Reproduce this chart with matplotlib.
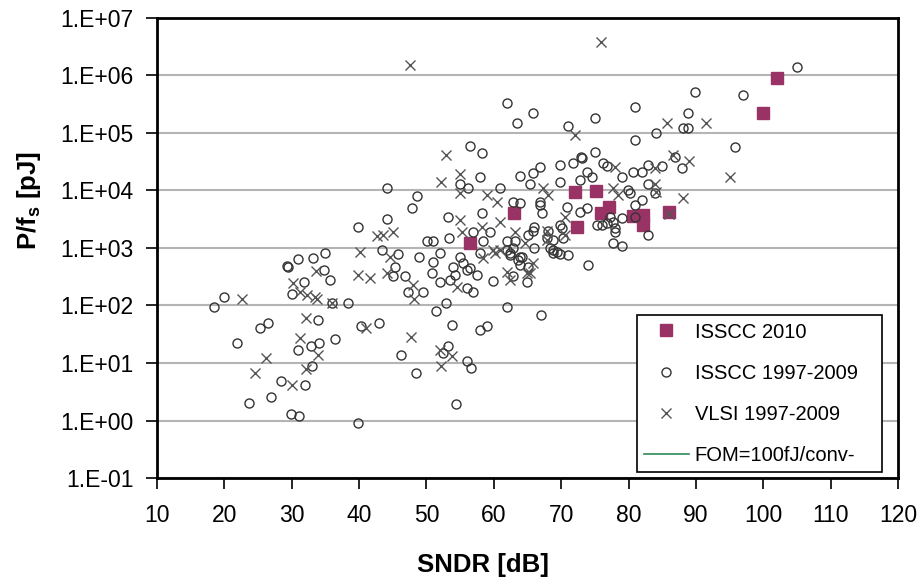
import matplotlib.pyplot as plt
from matplotlib.lines import Line2D
from matplotlib.ticker import FixedLocator, FuncFormatter, NullLocator
import numpy as np

plt.rcParams['font.family'] = ['Liberation Sans', 'DejaVu Sans']
plt.rcParams['mathtext.fontset'] = 'custom'
plt.rcParams['mathtext.rm'] = 'Liberation Sans'
plt.rcParams['mathtext.bf'] = 'Liberation Sans:bold'

# ISSCC 2010 (SNDR dB, P/fs pJ)
isscc2010_sndr = [56.5, 63.0, 72.1, 75.2, 72.4, 75.9, 77.1, 80.7, 82.1, 82.1, 86.0, 100.0, 102.0]
isscc2010_pfs = [1.2e3, 4.1e3, 9.4e3, 9.8e3, 2.3e3, 4.1e3, 5.1e3, 3.6e3, 3.8e3, 2.5e3, 4.3e3, 2.2e5, 9.1e5]

# ISSCC 1997-2009
isscc_sndr = [
    44.1, 48.6, 47.9, 53.2, 44.1, 39.8, 50.1, 51.0, 53.3, 52.0, 43.4, 45.8, 48.9, 51.0, 45.3, 50.8,
    52.0, 45.0, 46.8, 29.3, 29.4, 30.9, 33.2, 34.9, 34.8, 35.7, 31.8, 30.0, 36.0, 38.4, 20.0, 18.5,
    33.9, 25.3, 26.5, 21.9, 30.9, 32.9, 34.1, 36.4, 33.0, 28.4, 32.0, 26.9, 23.7, 29.9, 31.1, 39.8,
    40.3, 43.0, 46.2, 48.5, 52.5, 51.4, 52.9, 47.3, 49.5, 53.8, 58.0, 59.0, 62.0, 67.0, 53.2, 56.0,
    56.6, 54.4, 53.9, 54.2, 55.0, 56.0, 57.5, 59.9, 56.9, 56.0, 58.0, 62.4, 62.9, 63.9, 63.9, 64.9,
    68.8, 69.8, 71.0, 74.0, 58.2, 56.5, 58.0, 55.0, 56.2, 60.9, 63.9, 65.4, 65.8, 66.9, 66.9, 66.9,
    67.2, 63.9, 62.9, 69.8, 71.8, 73.1, 75.0, 73.8, 69.8, 72.8, 74.6, 76.2, 76.8, 79.0, 80.7, 82.0,
    82.9, 79.9, 80.2, 82.9, 85.0, 81.0, 82.0, 81.0, 82.9, 79.0, 77.7, 78.0, 77.7, 79.0, 75.3, 76.1,
    76.8, 73.8, 72.8, 69.8, 70.1, 70.3, 68.0, 67.9, 68.8, 68.3, 68.8, 69.4, 66.0, 65.1, 66.0, 64.2,
    65.1, 62.0, 62.9, 62.4, 59.4, 62.0, 63.6, 58.2, 56.9, 55.4, 56.5, 53.5, 89.9, 97.0, 81.0, 88.8,
    84.1, 88.1, 88.8, 81.0, 95.8, 86.9, 87.9, 83.9, 77.2, 78.0, 105.0, 62.0, 63.4, 65.8, 71.0, 75.0,
    72.9, 70.9, 63.1, 65.8, 58.4,
]
isscc_pfs = [
    1.1e4, 7.9e3, 5.0e3, 3.5e3, 3.2e3, 2.3e3, 1.3e3, 1.3e3, 1.5e3, 8.1e2, 9.3e2, 7.9e2, 6.9e2, 5.8e2, 4.7e2, 3.7e2,
    2.6e2, 3.2e2, 3.2e2, 4.9e2, 4.7e2, 6.5e2, 6.8e2, 8.1e2, 4.2e2, 2.8e2, 2.6e2, 1.6e2, 1.1e2, 1.1e2, 1.4e2, 93,
    56, 41, 50, 22, 17, 20, 22, 26, 8.9, 4.9, 4.2, 2.6, 2.0, 1.3, 1.2, 0.91,
    44, 50, 14, 6.8, 15, 79, 1.1e2, 1.7e2, 1.7e2, 46, 37, 44, 93, 68, 20, 11,
    8.1, 1.9, 4.7e2, 3.4e2, 6.9e2, 4.2e2, 3.4e2, 2.7e2, 1.7e2, 2.0e2, 8.1e2, 7.6e2, 3.2e2, 6.9e2, 5.0e2, 2.6e2,
    8.1e2, 7.9e2, 7.6e2, 5.0e2, 4.5e4, 5.9e4, 1.7e4, 1.3e4, 1.1e4, 1.1e4, 1.8e4, 1.3e4, 2.0e4, 2.6e4, 6.3e3, 5.6e3,
    4.1e3, 6.0e3, 6.3e3, 2.8e4, 3.0e4, 3.7e4, 4.7e4, 2.1e4, 1.4e4, 1.5e4, 1.7e4, 3.0e4, 2.7e4, 1.7e4, 2.1e4, 2.1e4,
    2.8e4, 1.0e4, 9.1e3, 1.3e4, 2.7e4, 5.6e3, 6.8e3, 3.5e3, 1.7e3, 3.3e3, 2.8e3, 2.2e3, 1.2e3, 1.1e3, 2.5e3, 2.5e3,
    2.7e3, 5.0e3, 4.3e3, 2.5e3, 2.2e3, 1.5e3, 2.0e3, 1.5e3, 1.4e3, 1.0e3, 9.3e2, 8.5e2, 2.3e3, 1.7e3, 1.0e3, 6.9e2,
    4.7e2, 1.3e3, 1.0e3, 8.1e2, 1.9e3, 9.3e2, 6.2e2, 4.1e3, 1.9e3, 5.5e2, 4.5e2, 2.8e2, 5.1e5, 4.6e5, 2.8e5, 2.2e5,
    1.0e5, 1.2e5, 1.2e5, 7.6e4, 5.8e4, 3.8e4, 2.5e4, 9.1e3, 3.5e3, 1.9e3, 1.4e6, 3.3e5, 1.5e5, 2.2e5, 1.3e5, 1.8e5,
    3.8e4, 5.1e3, 1.3e3, 2.0e3, 1.3e3,
]

# VLSI 1997-2009
vlsi_sndr = [
    47.6, 75.9, 52.9, 52.2, 42.7, 43.6, 45.0, 40.1, 44.6, 44.1, 48.0, 39.8, 41.6, 33.6, 30.2, 31.2,
    32.3, 33.5, 33.8, 36.0, 22.6, 32.1, 31.2, 33.9, 32.1, 26.2, 24.5, 30.0, 41.0, 47.7, 52.0, 52.2,
    48.2, 53.8, 60.2, 62.0, 62.4, 64.9, 65.8, 54.5, 55.0, 55.0, 59.0, 60.5, 67.3, 68.0, 77.7, 83.9,
    84.1, 86.6, 70.6, 70.6, 67.9, 64.6, 65.4, 63.1, 60.9, 59.9, 60.9, 58.2, 58.4, 55.0, 55.3, 85.7,
    91.5, 95.1, 89.0, 83.9, 78.0, 88.1, 86.0, 72.1, 78.4, 67.9,
]
vlsi_pfs = [
    1.5e6, 3.8e6, 4.2e4, 1.4e4, 1.6e3, 1.7e3, 1.9e3, 8.5e2, 6.9e2, 3.7e2, 2.3e2, 3.4e2, 3.0e2, 4.0e2, 2.5e2, 1.7e2,
    1.5e2, 1.4e2, 1.3e2, 1.1e2, 1.3e2, 60, 27, 14, 7.9, 12, 6.8, 4.2, 41, 28, 17, 8.9,
    1.3e2, 13, 8.1e2, 3.8e2, 2.8e2, 3.7e2, 5.5e2, 2.1e2, 1.9e4, 9.1e3, 8.3e3, 6.3e3, 1.1e4, 8.3e3, 1.1e4, 1.3e4,
    9.3e3, 4.2e4, 3.5e3, 1.7e3, 2.0e3, 1.2e3, 3.7e2, 1.9e3, 2.8e3, 9.3e2, 9.3e2, 2.3e3, 6.8e2, 3.1e3, 1.9e3, 1.5e5,
    1.5e5, 1.7e4, 3.2e4, 2.5e4, 2.6e4, 7.4e3, 3.9e3, 9.3e4, 8.3e3, 1.4e3,
]

x_ticks = [10, 20, 30, 40, 50, 60, 70, 80, 90, 100, 110, 120]
y_exponents = [-1, 0, 1, 2, 3, 4, 5, 6, 7]

fig = plt.figure(figsize=(9.24, 5.84), dpi=100)
ax = fig.add_axes([0.1699, 0.1815, 0.802, 0.7877])

ax.plot(isscc2010_sndr, isscc2010_pfs, linestyle='none', marker='s', markersize=9,
        markerfacecolor='#993366', markeredgecolor='#993366', label='ISSCC 2010', zorder=2)
ax.plot(isscc_sndr, isscc_pfs, linestyle='none', marker='o', markersize=6.5,
        markerfacecolor='none', markeredgecolor='#333333', markeredgewidth=1.0,
        label='ISSCC 1997-2009', zorder=3)
ax.plot(vlsi_sndr, vlsi_pfs, linestyle='none', marker='x', markersize=7,
        color='#555555', markeredgewidth=1.0, label='VLSI 1997-2009', zorder=3)

ax.set_yscale('log')
ax.set_xlim(10, 120)
ax.set_ylim(1e-1, 1e7)
ax.xaxis.set_major_locator(FixedLocator(x_ticks))
ax.yaxis.set_major_locator(FixedLocator([10.0 ** e for e in y_exponents]))
ax.yaxis.set_minor_locator(NullLocator())
ax.yaxis.set_major_formatter(FuncFormatter(lambda v, p: '1.E%+03d' % int(round(np.log10(v)))))

ax.grid(axis='y', color='#b4b4b4', linewidth=1.5, zorder=0)
ax.set_axisbelow(True)
for s in ax.spines.values():
    s.set_linewidth(2)
ax.tick_params(axis='both', direction='out', length=8, width=1.2, labelsize=16.5, colors='black')
ax.tick_params(axis='x', pad=11)
ax.tick_params(axis='y', pad=9)

ax.set_xlabel('SNDR [dB]', fontsize=18.5, fontweight='bold')
ax.set_ylabel(r'P/f$_\mathbf{s}$ [pJ]', fontsize=18.5, fontweight='bold')
ax.xaxis.set_label_coords(0.44, -0.163)
ax.yaxis.set_label_coords(-0.154, 0.604)

handles, labels = ax.get_legend_handles_labels()
handles.append(Line2D([], [], color='#2e8b57', linewidth=1.2))
labels.append('FOM=100fJ/conv-')
leg = ax.legend(handles, labels, loc='lower left', bbox_to_anchor=(0.648, 0.013, 0.330, 0.333),
                mode='expand', fontsize=14.5, frameon=True, fancybox=False, shadow=False,
                edgecolor='black', framealpha=1, labelspacing=1.1,
                handlelength=2.2, handletextpad=0.3, borderpad=0.35, borderaxespad=0)
leg.get_frame().set_linewidth(1.2)

fig.savefig('out.png', dpi=100)
